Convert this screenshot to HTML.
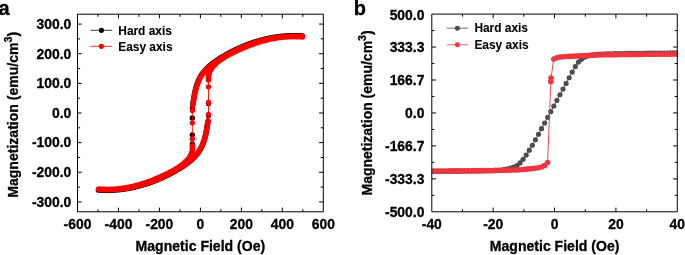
<!DOCTYPE html>
<html><head><meta charset="utf-8"><title>Magnetization</title>
<style>html,body{margin:0;padding:0;background:#fff}svg{display:block;will-change:transform}</style></head>
<body>
<svg width="685" height="255" viewBox="0 0 685 255" style="font-family:'Liberation Sans',sans-serif;font-weight:bold" fill="#000">
<rect width="685" height="255" fill="#fff"/>
<filter id="bl" x="0" y="0" width="685" height="255" filterUnits="userSpaceOnUse"><feGaussianBlur stdDeviation="0.33"/></filter>
<g filter="url(#bl)">
<defs><clipPath id="ca"><rect x="77.5" y="14.2" width="245.8" height="197.60000000000002"/></clipPath><clipPath id="cb"><rect x="431.8" y="14.1" width="245.49999999999994" height="197.70000000000002"/></clipPath></defs>
<g clip-path="url(#ca)">
<g fill="none" stroke="#000" stroke-linecap="round" stroke-linejoin="round">
<path d="M302.33 35.97L301.42 35.91L300.51 35.86L299.6 35.81L298.7 35.78L297.79 35.75L296.88 35.72L295.97 35.71L295.07 35.7L294.16 35.69L293.26 35.7L292.35 35.71L291.45 35.73L290.55 35.75L289.65 35.78L288.75 35.82L287.85 35.86L286.95 35.91L286.05 35.97L285.16 36.03L284.26 36.1L283.36 36.17L282.47 36.26L281.58 36.34L280.68 36.44L279.79 36.54L278.9 36.65L278.01 36.76L277.13 36.88L276.24 37.01L275.35 37.14L274.47 37.28L273.58 37.42L272.7 37.57L271.82 37.73L270.94 37.89L270.06 38.06L269.18 38.24L268.31 38.42L267.43 38.6L266.56 38.8L265.68 39L264.81 39.2L263.94 39.41L263.07 39.63L262.21 39.85L261.34 40.08L260.48 40.31L259.61 40.55L258.75 40.79L257.89 41.04L257.03 41.3L256.17 41.56L255.32 41.83L254.46 42.1L253.61 42.38L252.76 42.66L251.91 42.95L251.06 43.24L250.22 43.54L249.37 43.85L248.53 44.16L247.69 44.47L246.85 44.8L246.01 45.12L245.17 45.45L244.34 45.79L243.5 46.13L242.67 46.48L241.84 46.83L241.02 47.19L240.19 47.55L239.37 47.92L238.54 48.29L237.72 48.67L236.91 49.05L236.09 49.44L235.27 49.83L234.46 50.23L233.65 50.63L232.84 51.04L232.04 51.45L231.23 51.86L230.43 52.28L229.63 52.71L228.83 53.14L228.03 53.58L227.24 54.02L226.45 54.46L225.66 54.91L224.87 55.36L224.09 55.82L223.3 56.28L222.52 56.75L221.74 57.22L220.97 57.7L220.19 58.18L219.42 58.66L218.66 59.16L217.89 59.65L217.14 60.16L216.38 60.66L215.64 61.18L214.9 61.7L214.17 62.23L213.44 62.77L212.72 63.31L212.01 63.86L211.31 64.42L210.62 64.99L209.94 65.56L209.27 66.15L208.6 66.74L207.96 67.35L207.32 67.96L206.69 68.58L206.08 69.22L205.48 69.86L204.89 70.52L204.32 71.18L203.76 71.86L203.22 72.55L202.69 73.25L202.18 73.96L201.68 74.68L201.2 75.42L200.74 76.17L200.3 76.93L199.87 77.71L199.47 78.49L199.08 79.29L198.7 80.1L198.34 80.92L198 81.75L197.67 82.59L197.36 83.44L197.06 84.29L196.77 85.15L196.5 86.02L196.25 86.9L196 87.78L195.77 88.66L195.55 89.55L195.34 90.44L195.13 91.34L194.94 92.24L194.76 93.14L194.58 94.03L194.41 94.93L194.25 95.83L194.09 96.73L193.93 97.62L193.78 98.51L193.64 99.4L193.5 100.28L193.35 101.16L193.21 102.03L193.07 102.9L192.93 103.76L192.79 104.61M98.47 190.04L99.38 190.09L100.29 190.14L101.2 190.19L102.1 190.23L103.01 190.26L103.92 190.28L104.83 190.3L105.73 190.31L106.64 190.31L107.54 190.3L108.45 190.29L109.35 190.28L110.25 190.25L111.15 190.22L112.05 190.19L112.95 190.14L113.85 190.09L114.75 190.04L115.64 189.97L116.54 189.9L117.44 189.83L118.33 189.75L119.22 189.66L120.12 189.56L121.01 189.46L121.9 189.35L122.79 189.24L123.67 189.12L124.56 188.99L125.45 188.86L126.33 188.72L127.22 188.58L128.1 188.43L128.98 188.27L129.86 188.11L130.74 187.94L131.62 187.77L132.49 187.58L133.37 187.4L134.24 187.21L135.12 187.01L135.99 186.8L136.86 186.59L137.73 186.38L138.59 186.15L139.46 185.93L140.32 185.69L141.19 185.46L142.05 185.21L142.91 184.96L143.77 184.7L144.63 184.44L145.48 184.18L146.34 183.9L147.19 183.63L148.04 183.34L148.89 183.05L149.74 182.76L150.58 182.46L151.43 182.15L152.27 181.84L153.11 181.53L153.95 181.21L154.79 180.88L155.63 180.55L156.46 180.21L157.3 179.87L158.13 179.52L158.96 179.17L159.78 178.81L160.61 178.45L161.43 178.09L162.26 177.71L163.08 177.34L163.89 176.95L164.71 176.57L165.53 176.17L166.34 175.78L167.15 175.37L167.96 174.97L168.76 174.56L169.57 174.14L170.37 173.72L171.17 173.29L171.97 172.86L172.77 172.43L173.56 171.99L174.35 171.54L175.14 171.09L175.93 170.64L176.71 170.18L177.5 169.72L178.28 169.25L179.06 168.78L179.83 168.31L180.61 167.82L181.38 167.34L182.14 166.85L182.91 166.35L183.66 165.85L184.42 165.34L185.16 164.82L185.9 164.3L186.63 163.77L187.36 163.24L188.08 162.69L188.79 162.14L189.49 161.58L190.18 161.01L190.86 160.44L191.53 159.85L192.2 159.26L192.84 158.66L193.48 158.04L194.11 157.42L194.72 156.79L195.32 156.14L195.91 155.49L196.48 154.82L197.04 154.15L197.58 153.46L198.11 152.76L198.62 152.05L199.12 151.32L199.6 150.58L200.06 149.83L200.5 149.07L200.93 148.3L201.33 147.51L201.72 146.71L202.1 145.9L202.46 145.08L202.8 144.25L203.13 143.41L203.44 142.57L203.74 141.71L204.03 140.85L204.3 139.98L204.55 139.11L204.8 138.23L205.03 137.34L205.25 136.45L205.46 135.56L205.67 134.66L205.86 133.77L206.04 132.87L206.22 131.97L206.39 131.07L206.55 130.17L206.71 129.28L206.87 128.38L207.02 127.49L207.16 126.6L207.3 125.72L207.45 124.84L207.59 123.97L207.73 123.1L207.87 122.24L208.01 121.39" stroke-width="5.5"/>
</g>
<g fill="#000"><circle cx="192.4" cy="108.3" r="2.65"/><circle cx="192.3" cy="117.9" r="2.65"/><circle cx="192.3" cy="134.8" r="2.65"/><circle cx="192.3" cy="144" r="2.65"/><circle cx="208.5" cy="103.5" r="2.65"/><circle cx="208.5" cy="115.5" r="2.65"/></g>
<g fill="none" stroke="#f00" stroke-linecap="round" stroke-linejoin="round">
<path d="M302.33 36.52L301.42 36.46L300.51 36.41L299.6 36.36L298.7 36.33L297.79 36.3L296.88 36.27L295.97 36.26L295.07 36.25L294.16 36.24L293.26 36.25L292.35 36.26L291.45 36.28L290.55 36.3L289.65 36.33L288.75 36.37L287.85 36.41L286.95 36.46L286.05 36.52L285.16 36.58L284.26 36.65L283.36 36.72L282.47 36.81L281.58 36.89L280.68 36.99L279.79 37.09L278.9 37.2L278.01 37.31L277.13 37.43L276.24 37.56L275.35 37.69L274.47 37.83L273.58 37.97L272.7 38.12L271.82 38.28L270.94 38.44L270.06 38.61L269.18 38.79L268.31 38.97L267.43 39.15L266.56 39.35L265.68 39.55L264.81 39.75L263.94 39.96L263.07 40.18L262.21 40.4L261.34 40.63L260.48 40.86L259.61 41.1L258.75 41.34L257.89 41.59L257.03 41.85L256.17 42.11L255.32 42.38L254.46 42.65L253.61 42.93L252.76 43.21L251.91 43.5L251.06 43.79L250.22 44.09L249.37 44.4L248.53 44.71L247.69 45.02L246.85 45.35L246.01 45.67L245.17 46L244.34 46.34L243.5 46.68L242.67 47.03L241.84 47.38L241.02 47.74L240.19 48.1L239.37 48.47L238.54 48.84L237.72 49.22L236.91 49.6L236.09 49.99L235.27 50.38L234.46 50.78L233.65 51.18L232.84 51.59L232.04 52L231.23 52.41L230.43 52.83L229.63 53.26L228.83 53.69L228.03 54.13L227.24 54.57L226.45 55.01L225.66 55.46L224.87 55.91L224.09 56.37L223.3 56.83L222.52 57.3L221.74 57.77L220.97 58.25L220.19 58.73L219.42 59.21L218.66 59.71L217.89 60.2L217.14 60.71L216.38 61.21L215.64 61.73L214.9 62.25L214.17 62.78L213.44 63.32L212.72 63.86L212.01 64.41L211.31 64.97L210.62 65.54L209.94 66.11L209.27 66.7L208.6 67.29L207.96 67.9L207.32 68.51L206.69 69.13L206.08 69.77L205.48 70.41L204.89 71.07L204.32 71.73L203.76 72.41L203.22 73.1L202.69 73.8L202.18 74.51L201.68 75.23L201.2 75.97L200.74 76.72L200.3 77.48L199.87 78.26L199.47 79.04L199.08 79.84L198.7 80.65L198.34 81.47L198 82.3L197.67 83.14L197.36 83.99L197.06 84.84L196.77 85.7L196.5 86.57L196.25 87.45L196 88.33L195.77 89.21L195.55 90.1L195.34 90.99L195.13 91.89L194.94 92.79L194.76 93.69L194.58 94.58L194.41 95.48L194.25 96.38L194.09 97.28L193.93 98.17L193.78 99.06L193.64 99.95L193.5 100.83L193.35 101.71L193.21 102.58L193.07 103.45L192.93 104.31L192.79 105.16M208.44 80.03L208.39 79.24L208.37 78.47L208.39 77.71L208.43 76.98L208.51 76.25L208.61 75.55L208.75 74.86L208.91 74.18L209.09 73.52L209.3 72.88L209.54 72.25L209.8 71.63L210.08 71.02L210.38 70.43L210.71 69.85L211.05 69.28L211.41 68.72L211.79 68.17L212.19 67.64L212.6 67.11L213.03 66.6L213.47 66.09L213.92 65.59L214.39 65.11L214.86 64.63L215.35 64.15L215.84 63.69L216.35 63.23L216.86 62.78L217.38 62.34L217.91 61.9L218.45 61.47L218.99 61.05L219.54 60.63L220.1 60.22L220.66 59.82L221.23 59.42L221.81 59.02L222.39 58.64L222.98 58.25L223.57 57.88L224.17 57.5L224.77 57.14L225.37 56.77L225.98 56.41L226.6 56.06L227.21 55.71L227.84 55.36L228.46 55.02L229.09 54.68L229.71 54.35L230.35 54.02L230.98 53.69L231.61 53.36L232.25 53.04L232.89 52.72L233.53 52.4L234.17 52.09L234.81 51.78L235.45 51.47L236.09 51.16L236.73 50.86L237.37 50.55L238.01 50.25L238.65 49.96L239.3 49.66L239.94 49.37L240.59 49.08L241.23 48.79L241.88 48.51L242.52 48.22L243.17 47.94L243.82 47.67L244.47 47.39L245.11 47.12L245.76 46.85L246.41 46.59L247.06 46.32L247.72 46.06L248.37 45.81L249.02 45.55L249.67 45.3L250.33 45.05L250.98 44.81L251.64 44.57L252.29 44.33L252.95 44.09L253.6 43.86L254.26 43.63L254.92 43.4L255.58 43.18L256.24 42.96L256.9 42.74L257.56 42.53L258.22 42.32L258.89 42.11L259.55 41.91L260.21 41.71L260.88 41.51L261.54 41.32L262.21 41.13L262.88 40.94L263.55 40.76L264.22 40.58L264.89 40.4L265.56 40.23L266.23 40.06L266.9 39.9L267.57 39.74L268.25 39.58L268.92 39.43L269.6 39.28L270.27 39.13L270.95 38.99L271.63 38.85L272.31 38.71L272.99 38.58L273.67 38.46L274.35 38.33L275.03 38.22L275.71 38.1L276.4 37.99L277.08 37.88L277.77 37.78L278.46 37.68L279.14 37.59L279.83 37.5L280.52 37.41L281.21 37.33L281.9 37.25L282.6 37.18L283.29 37.11L283.98 37.05L284.68 36.99L285.38 36.93L286.07 36.88L286.77 36.83L287.47 36.79L288.17 36.75L288.87 36.72L289.58 36.69L290.28 36.67L290.98 36.65L291.69 36.63L292.4 36.62L293.1 36.62L293.81 36.62L294.52 36.62L295.23 36.63L295.95 36.64L296.66 36.66L297.37 36.68L298.09 36.71L298.81 36.74L299.52 36.78L300.24 36.83L300.96 36.87L301.68 36.93L302.4 36.98M98.47 189.49L99.38 189.54L100.29 189.59L101.2 189.64L102.1 189.68L103.01 189.71L103.92 189.73L104.83 189.75L105.73 189.76L106.64 189.76L107.54 189.75L108.45 189.74L109.35 189.73L110.25 189.7L111.15 189.67L112.05 189.64L112.95 189.59L113.85 189.54L114.75 189.49L115.64 189.42L116.54 189.35L117.44 189.28L118.33 189.2L119.22 189.11L120.12 189.01L121.01 188.91L121.9 188.8L122.79 188.69L123.67 188.57L124.56 188.44L125.45 188.31L126.33 188.17L127.22 188.03L128.1 187.88L128.98 187.72L129.86 187.56L130.74 187.39L131.62 187.22L132.49 187.03L133.37 186.85L134.24 186.66L135.12 186.46L135.99 186.25L136.86 186.04L137.73 185.83L138.59 185.6L139.46 185.38L140.32 185.14L141.19 184.91L142.05 184.66L142.91 184.41L143.77 184.15L144.63 183.89L145.48 183.63L146.34 183.35L147.19 183.08L148.04 182.79L148.89 182.5L149.74 182.21L150.58 181.91L151.43 181.6L152.27 181.29L153.11 180.98L153.95 180.66L154.79 180.33L155.63 180L156.46 179.66L157.3 179.32L158.13 178.97L158.96 178.62L159.78 178.26L160.61 177.9L161.43 177.54L162.26 177.16L163.08 176.79L163.89 176.4L164.71 176.02L165.53 175.62L166.34 175.23L167.15 174.82L167.96 174.42L168.76 174.01L169.57 173.59L170.37 173.17L171.17 172.74L171.97 172.31L172.77 171.88L173.56 171.44L174.35 170.99L175.14 170.54L175.93 170.09L176.71 169.63L177.5 169.17L178.28 168.7L179.06 168.23L179.83 167.76L180.61 167.27L181.38 166.79L182.14 166.3L182.91 165.8L183.66 165.3L184.42 164.79L185.16 164.27L185.9 163.75L186.63 163.22L187.36 162.69L188.08 162.14L188.79 161.59L189.49 161.03L190.18 160.46L190.86 159.89L191.53 159.3L192.2 158.71L192.84 158.11L193.48 157.49L194.11 156.87L194.72 156.24L195.32 155.59L195.91 154.94L196.48 154.27L197.04 153.6L197.58 152.91L198.11 152.21L198.62 151.5L199.12 150.77L199.6 150.03L200.06 149.28L200.5 148.52L200.93 147.75L201.33 146.96L201.72 146.16L202.1 145.35L202.46 144.53L202.8 143.7L203.13 142.86L203.44 142.02L203.74 141.16L204.03 140.3L204.3 139.43L204.55 138.56L204.8 137.68L205.03 136.79L205.25 135.9L205.46 135.01L205.67 134.11L205.86 133.22L206.04 132.32L206.22 131.42L206.39 130.52L206.55 129.62L206.71 128.73L206.87 127.83L207.02 126.94L207.16 126.05L207.3 125.17L207.45 124.29L207.59 123.42L207.73 122.55L207.87 121.69L208.01 120.84M192.36 145.98L192.41 146.77L192.43 147.54L192.41 148.29L192.37 149.03L192.29 149.75L192.19 150.45L192.05 151.14L191.89 151.82L191.71 152.48L191.5 153.12L191.26 153.76L191 154.38L190.72 154.98L190.42 155.57L190.09 156.16L189.75 156.72L189.39 157.28L189.01 157.83L188.61 158.36L188.2 158.89L187.77 159.41L187.33 159.91L186.88 160.41L186.41 160.9L185.94 161.38L185.45 161.85L184.96 162.31L184.45 162.77L183.94 163.22L183.42 163.66L182.89 164.1L182.35 164.53L181.81 164.95L181.26 165.37L180.7 165.78L180.14 166.19L179.57 166.59L178.99 166.98L178.41 167.37L177.82 167.75L177.23 168.13L176.63 168.5L176.03 168.87L175.43 169.23L174.82 169.59L174.2 169.94L173.59 170.29L172.96 170.64L172.34 170.98L171.71 171.32L171.09 171.65L170.45 171.99L169.82 172.31L169.19 172.64L168.55 172.96L167.91 173.28L167.27 173.6L166.63 173.91L165.99 174.23L165.35 174.53L164.71 174.84L164.07 175.15L163.43 175.45L162.79 175.75L162.15 176.05L161.5 176.34L160.86 176.64L160.21 176.93L159.57 177.21L158.92 177.5L158.28 177.78L157.63 178.06L156.98 178.34L156.33 178.61L155.69 178.88L155.04 179.15L154.39 179.42L153.74 179.68L153.08 179.94L152.43 180.2L151.78 180.45L151.13 180.7L150.47 180.95L149.82 181.19L149.16 181.44L148.51 181.67L147.85 181.91L147.2 182.14L146.54 182.37L145.88 182.6L145.22 182.82L144.56 183.04L143.9 183.26L143.24 183.47L142.58 183.68L141.91 183.89L141.25 184.09L140.59 184.29L139.92 184.49L139.26 184.69L138.59 184.87L137.92 185.06L137.25 185.24L136.58 185.42L135.91 185.6L135.24 185.77L134.57 185.94L133.9 186.1L133.23 186.27L132.55 186.42L131.88 186.58L131.2 186.73L130.53 186.87L129.85 187.02L129.17 187.15L128.49 187.29L127.81 187.42L127.13 187.55L126.45 187.67L125.77 187.79L125.09 187.9L124.4 188.01L123.72 188.12L123.03 188.22L122.34 188.32L121.66 188.41L120.97 188.5L120.28 188.59L119.59 188.67L118.9 188.75L118.2 188.82L117.51 188.89L116.82 188.96L116.12 189.02L115.42 189.07L114.73 189.12L114.03 189.17L113.33 189.21L112.63 189.25L111.93 189.28L111.22 189.31L110.52 189.34L109.82 189.36L109.11 189.37L108.4 189.38L107.7 189.39L106.99 189.39L106.28 189.38L105.57 189.37L104.85 189.36L104.14 189.34L103.43 189.32L102.71 189.29L101.99 189.26L101.28 189.22L100.56 189.18L99.84 189.13L99.12 189.08L98.4 189.02" stroke-width="5.5"/>
<path d="M192.3 108V147M208.5 79V118" stroke-width="0.9"/>
</g>
<g fill="#f00"><circle cx="192.4" cy="110.5" r="2.65"/><circle cx="192.3" cy="122.8" r="2.65"/><circle cx="192.3" cy="139" r="2.65"/><circle cx="208.5" cy="86.8" r="2.65"/><circle cx="208.5" cy="102.4" r="2.65"/><circle cx="208.5" cy="114.4" r="2.65"/></g>
</g>
<g clip-path="url(#cb)">
<path d="M421.86 171.44L424.93 171.42L428 171.4L431.07 171.38L434.14 171.36L437.21 171.34L440.28 171.31L443.34 171.29L446.41 171.26L449.48 171.24L452.55 171.21L455.62 171.19L458.69 171.16L461.76 171.13L464.83 171.1L467.89 171.07L470.96 171.04L474.03 171.01L477.1 170.98L480.17 170.95L483.24 170.92L486.31 170.87L489.38 170.81L492.44 170.72L495.51 170.55L498.58 170.32L501.65 170L504.72 169.45L507.79 168.84L510.86 168.09L513.92 167.07L516.99 165.5L520.06 162.94L523.13 159.33L526.2 155.07L529.27 150.17L532.34 145.27L535.41 139.77L538.48 134.25L541.54 128.66L544.61 123.02L547.68 117.34L550.75 111.63L553.82 106L556.89 100.37L559.96 94.73L563.02 89.08L566.09 83.43L569.16 77.77L572.23 72.09L575.3 66.6L578.37 62.1L581.44 59.31L584.51 57.19L587.58 55.94L590.64 55.07L593.71 54.62L596.78 54.37L599.85 54.19L602.92 54.04L605.99 53.92L609.06 53.83L612.12 53.75L615.19 53.68L618.26 53.62L621.33 53.56L624.4 53.51L627.47 53.47L630.54 53.42L633.61 53.38L636.67 53.34L639.74 53.3L642.81 53.26L645.88 53.22L648.95 53.19L652.02 53.15L655.09 53.12L658.16 53.08L661.22 53.05L664.29 53.02L667.36 52.99L670.43 52.96L673.5 52.93L676.57 52.9L679.64 52.88L682.71 52.85L685.77 52.83L688.84 52.81" fill="none" stroke="#4d4d4d" stroke-width="0.9"/>
<g fill="#4d4d4d"><circle cx="421.86" cy="171.44" r="2.6"/><circle cx="424.93" cy="171.42" r="2.6"/><circle cx="428" cy="171.4" r="2.6"/><circle cx="431.07" cy="171.38" r="2.6"/><circle cx="434.14" cy="171.36" r="2.6"/><circle cx="437.21" cy="171.34" r="2.6"/><circle cx="440.28" cy="171.31" r="2.6"/><circle cx="443.34" cy="171.29" r="2.6"/><circle cx="446.41" cy="171.26" r="2.6"/><circle cx="449.48" cy="171.24" r="2.6"/><circle cx="452.55" cy="171.21" r="2.6"/><circle cx="455.62" cy="171.19" r="2.6"/><circle cx="458.69" cy="171.16" r="2.6"/><circle cx="461.76" cy="171.13" r="2.6"/><circle cx="464.83" cy="171.1" r="2.6"/><circle cx="467.89" cy="171.07" r="2.6"/><circle cx="470.96" cy="171.04" r="2.6"/><circle cx="474.03" cy="171.01" r="2.6"/><circle cx="477.1" cy="170.98" r="2.6"/><circle cx="480.17" cy="170.95" r="2.6"/><circle cx="483.24" cy="170.92" r="2.6"/><circle cx="486.31" cy="170.87" r="2.6"/><circle cx="489.38" cy="170.81" r="2.6"/><circle cx="492.44" cy="170.72" r="2.6"/><circle cx="495.51" cy="170.55" r="2.6"/><circle cx="498.58" cy="170.32" r="2.6"/><circle cx="501.65" cy="170" r="2.6"/><circle cx="504.72" cy="169.45" r="2.6"/><circle cx="507.79" cy="168.84" r="2.6"/><circle cx="510.86" cy="168.09" r="2.6"/><circle cx="513.92" cy="167.07" r="2.6"/><circle cx="516.99" cy="165.5" r="2.6"/><circle cx="520.06" cy="162.94" r="2.6"/><circle cx="523.13" cy="159.33" r="2.6"/><circle cx="526.2" cy="155.07" r="2.6"/><circle cx="529.27" cy="150.17" r="2.6"/><circle cx="532.34" cy="145.27" r="2.6"/><circle cx="535.41" cy="139.77" r="2.6"/><circle cx="538.48" cy="134.25" r="2.6"/><circle cx="541.54" cy="128.66" r="2.6"/><circle cx="544.61" cy="123.02" r="2.6"/><circle cx="547.68" cy="117.34" r="2.6"/><circle cx="550.75" cy="111.63" r="2.6"/><circle cx="553.82" cy="106" r="2.6"/><circle cx="556.89" cy="100.37" r="2.6"/><circle cx="559.96" cy="94.73" r="2.6"/><circle cx="563.02" cy="89.08" r="2.6"/><circle cx="566.09" cy="83.43" r="2.6"/><circle cx="569.16" cy="77.77" r="2.6"/><circle cx="572.23" cy="72.09" r="2.6"/><circle cx="575.3" cy="66.6" r="2.6"/><circle cx="578.37" cy="62.1" r="2.6"/><circle cx="581.44" cy="59.31" r="2.6"/><circle cx="584.51" cy="57.19" r="2.6"/><circle cx="587.58" cy="55.94" r="2.6"/><circle cx="590.64" cy="55.07" r="2.6"/><circle cx="593.71" cy="54.62" r="2.6"/><circle cx="596.78" cy="54.37" r="2.6"/><circle cx="599.85" cy="54.19" r="2.6"/><circle cx="602.92" cy="54.04" r="2.6"/><circle cx="605.99" cy="53.92" r="2.6"/><circle cx="609.06" cy="53.83" r="2.6"/><circle cx="612.12" cy="53.75" r="2.6"/><circle cx="615.19" cy="53.68" r="2.6"/><circle cx="618.26" cy="53.62" r="2.6"/><circle cx="621.33" cy="53.56" r="2.6"/><circle cx="624.4" cy="53.51" r="2.6"/><circle cx="627.47" cy="53.47" r="2.6"/><circle cx="630.54" cy="53.42" r="2.6"/><circle cx="633.61" cy="53.38" r="2.6"/><circle cx="636.67" cy="53.34" r="2.6"/><circle cx="639.74" cy="53.3" r="2.6"/><circle cx="642.81" cy="53.26" r="2.6"/><circle cx="645.88" cy="53.22" r="2.6"/><circle cx="648.95" cy="53.19" r="2.6"/><circle cx="652.02" cy="53.15" r="2.6"/><circle cx="655.09" cy="53.12" r="2.6"/><circle cx="658.16" cy="53.08" r="2.6"/><circle cx="661.22" cy="53.05" r="2.6"/><circle cx="664.29" cy="53.02" r="2.6"/><circle cx="667.36" cy="52.99" r="2.6"/><circle cx="670.43" cy="52.96" r="2.6"/><circle cx="673.5" cy="52.93" r="2.6"/><circle cx="676.57" cy="52.9" r="2.6"/><circle cx="679.64" cy="52.88" r="2.6"/><circle cx="682.71" cy="52.85" r="2.6"/><circle cx="685.77" cy="52.83" r="2.6"/><circle cx="688.84" cy="52.81" r="2.6"/></g>
<path d="M424.85 171.08L427.92 171.06L430.99 171.05L434.06 171.03L437.13 171L440.19 170.98L443.26 170.96L446.33 170.93L449.4 170.91L452.47 170.88L455.54 170.85L458.61 170.82L461.68 170.79L464.74 170.76L467.81 170.72L470.88 170.69L473.95 170.66L477.02 170.63L480.09 170.59L483.16 170.56L486.23 170.53L489.29 170.49L492.36 170.45L495.43 170.4L498.5 170.35L501.57 170.3L504.64 170.23L507.71 170.17L510.78 170.09L513.84 170L516.91 169.88L519.98 169.68L523.05 169.43L526.12 169.15L529.19 168.87L532.26 168.6L535.33 168.25L538.39 167.68L541.46 166.98L544.53 165.58L547.6 162.5L551 78L553.8 59.1L556.87 57.71L559.94 57.01L563.01 56.71L566.07 56.52L569.14 56.35L572.21 56.19L575.28 56.05L578.35 55.92L581.42 55.79L584.49 55.66L587.56 55.52L590.62 55.35L593.69 55.15L596.76 54.98L599.83 54.88L602.9 54.82L605.97 54.76L609.04 54.71L612.11 54.67L615.17 54.63L618.24 54.6L621.31 54.57L624.38 54.54L627.45 54.51L630.52 54.48L633.59 54.46L636.66 54.43L639.72 54.4L642.79 54.37L645.86 54.34L648.93 54.32L652 54.29L655.07 54.26L658.14 54.23L661.21 54.21L664.27 54.18L667.34 54.16L670.41 54.13L673.48 54.11L676.55 54.09L679.62 54.07L682.69 54.04" fill="none" stroke="#ee363f" stroke-width="0.9" stroke-linejoin="round"/>
<g fill="#ee363f"><circle cx="547.6" cy="162.5" r="2.8"/><circle cx="544.53" cy="165.58" r="2.8"/><circle cx="541.46" cy="166.98" r="2.8"/><circle cx="538.39" cy="167.68" r="2.8"/><circle cx="535.33" cy="168.25" r="2.8"/><circle cx="532.26" cy="168.6" r="2.8"/><circle cx="529.19" cy="168.87" r="2.8"/><circle cx="526.12" cy="169.15" r="2.8"/><circle cx="523.05" cy="169.43" r="2.8"/><circle cx="519.98" cy="169.68" r="2.8"/><circle cx="516.91" cy="169.88" r="2.8"/><circle cx="513.84" cy="170" r="2.8"/><circle cx="510.78" cy="170.09" r="2.8"/><circle cx="507.71" cy="170.17" r="2.8"/><circle cx="504.64" cy="170.23" r="2.8"/><circle cx="501.57" cy="170.3" r="2.8"/><circle cx="498.5" cy="170.35" r="2.8"/><circle cx="495.43" cy="170.4" r="2.8"/><circle cx="492.36" cy="170.45" r="2.8"/><circle cx="489.29" cy="170.49" r="2.8"/><circle cx="486.23" cy="170.53" r="2.8"/><circle cx="483.16" cy="170.56" r="2.8"/><circle cx="480.09" cy="170.59" r="2.8"/><circle cx="477.02" cy="170.63" r="2.8"/><circle cx="473.95" cy="170.66" r="2.8"/><circle cx="470.88" cy="170.69" r="2.8"/><circle cx="467.81" cy="170.72" r="2.8"/><circle cx="464.74" cy="170.76" r="2.8"/><circle cx="461.68" cy="170.79" r="2.8"/><circle cx="458.61" cy="170.82" r="2.8"/><circle cx="455.54" cy="170.85" r="2.8"/><circle cx="452.47" cy="170.88" r="2.8"/><circle cx="449.4" cy="170.91" r="2.8"/><circle cx="446.33" cy="170.93" r="2.8"/><circle cx="443.26" cy="170.96" r="2.8"/><circle cx="440.19" cy="170.98" r="2.8"/><circle cx="437.13" cy="171" r="2.8"/><circle cx="434.06" cy="171.03" r="2.8"/><circle cx="430.99" cy="171.05" r="2.8"/><circle cx="427.92" cy="171.06" r="2.8"/><circle cx="424.85" cy="171.08" r="2.8"/><circle cx="553.8" cy="59.1" r="2.8"/><circle cx="556.87" cy="57.71" r="2.8"/><circle cx="559.94" cy="57.01" r="2.8"/><circle cx="563.01" cy="56.71" r="2.8"/><circle cx="566.07" cy="56.52" r="2.8"/><circle cx="569.14" cy="56.35" r="2.8"/><circle cx="572.21" cy="56.19" r="2.8"/><circle cx="575.28" cy="56.05" r="2.8"/><circle cx="578.35" cy="55.92" r="2.8"/><circle cx="581.42" cy="55.79" r="2.8"/><circle cx="584.49" cy="55.66" r="2.8"/><circle cx="587.56" cy="55.52" r="2.8"/><circle cx="590.62" cy="55.35" r="2.8"/><circle cx="593.69" cy="55.15" r="2.8"/><circle cx="596.76" cy="54.98" r="2.8"/><circle cx="599.83" cy="54.88" r="2.8"/><circle cx="602.9" cy="54.82" r="2.8"/><circle cx="605.97" cy="54.76" r="2.8"/><circle cx="609.04" cy="54.71" r="2.8"/><circle cx="612.11" cy="54.67" r="2.8"/><circle cx="615.17" cy="54.63" r="2.8"/><circle cx="618.24" cy="54.6" r="2.8"/><circle cx="621.31" cy="54.57" r="2.8"/><circle cx="624.38" cy="54.54" r="2.8"/><circle cx="627.45" cy="54.51" r="2.8"/><circle cx="630.52" cy="54.48" r="2.8"/><circle cx="633.59" cy="54.46" r="2.8"/><circle cx="636.66" cy="54.43" r="2.8"/><circle cx="639.72" cy="54.4" r="2.8"/><circle cx="642.79" cy="54.37" r="2.8"/><circle cx="645.86" cy="54.34" r="2.8"/><circle cx="648.93" cy="54.32" r="2.8"/><circle cx="652" cy="54.29" r="2.8"/><circle cx="655.07" cy="54.26" r="2.8"/><circle cx="658.14" cy="54.23" r="2.8"/><circle cx="661.21" cy="54.21" r="2.8"/><circle cx="664.27" cy="54.18" r="2.8"/><circle cx="667.34" cy="54.16" r="2.8"/><circle cx="670.41" cy="54.13" r="2.8"/><circle cx="673.48" cy="54.11" r="2.8"/><circle cx="676.55" cy="54.09" r="2.8"/><circle cx="679.62" cy="54.07" r="2.8"/><circle cx="682.69" cy="54.04" r="2.8"/><circle cx="551" cy="78" r="2.8"/><circle cx="550.8" cy="81.6" r="2.8"/></g>
</g>
<path d="M77.5 14.2H323.3V211.8H77.5ZM118.47 211.8v-4.2M118.47 14.2v4.2M159.43 211.8v-4.2M159.43 14.2v4.2M200.4 211.8v-4.2M200.4 14.2v4.2M241.37 211.8v-4.2M241.37 14.2v4.2M282.33 211.8v-4.2M282.33 14.2v4.2M97.98 211.8v-2.6M97.98 14.2v2.6M138.95 211.8v-2.6M138.95 14.2v2.6M179.92 211.8v-2.6M179.92 14.2v2.6M220.88 211.8v-2.6M220.88 14.2v2.6M261.85 211.8v-2.6M261.85 14.2v2.6M302.82 211.8v-2.6M302.82 14.2v2.6M77.5 201.92h4.2M323.3 201.92h-4.2M77.5 172.28h4.2M323.3 172.28h-4.2M77.5 142.64h4.2M323.3 142.64h-4.2M77.5 113h4.2M323.3 113h-4.2M77.5 83.36h4.2M323.3 83.36h-4.2M77.5 53.72h4.2M323.3 53.72h-4.2M77.5 24.08h4.2M323.3 24.08h-4.2M77.5 187.1h2.6M323.3 187.1h-2.6M77.5 157.46h2.6M323.3 157.46h-2.6M77.5 127.82h2.6M323.3 127.82h-2.6M77.5 98.18h2.6M323.3 98.18h-2.6M77.5 68.54h2.6M323.3 68.54h-2.6M77.5 38.9h2.6M323.3 38.9h-2.6" fill="none" stroke="#000" stroke-width="1.0" stroke-linejoin="miter"/>
<path d="M431.8 14.1H677.3V211.8H431.8ZM493.18 211.8v-4.2M493.18 14.1v4.2M554.55 211.8v-4.2M554.55 14.1v4.2M615.92 211.8v-4.2M615.92 14.1v4.2M462.49 211.8v-2.6M462.49 14.1v2.6M523.86 211.8v-2.6M523.86 14.1v2.6M585.24 211.8v-2.6M585.24 14.1v2.6M646.61 211.8v-2.6M646.61 14.1v2.6M431.8 47.05h4.2M677.3 47.05h-4.2M431.8 80h4.2M677.3 80h-4.2M431.8 112.95h4.2M677.3 112.95h-4.2M431.8 145.9h4.2M677.3 145.9h-4.2M431.8 178.85h4.2M677.3 178.85h-4.2M431.8 30.57h2.6M677.3 30.57h-2.6M431.8 63.53h2.6M677.3 63.53h-2.6M431.8 96.48h2.6M677.3 96.48h-2.6M431.8 129.43h2.6M677.3 129.43h-2.6M431.8 162.38h2.6M677.3 162.38h-2.6M431.8 195.33h2.6M677.3 195.33h-2.6" fill="none" stroke="#000" stroke-width="1.0" stroke-linejoin="miter"/>
<text x="-1.6" y="14.5" font-size="20" text-anchor="start" stroke="#000" stroke-width="0.3" stroke-linejoin="round">a</text>
<text x="353.8" y="14.7" font-size="20" text-anchor="start" stroke="#000" stroke-width="0.3" stroke-linejoin="round">b</text>
<text x="71.3" y="207.02" font-size="13.9" text-anchor="end" stroke="#000" stroke-width="0.3" stroke-linejoin="round">-300.0</text>
<text x="71.3" y="177.38" font-size="13.9" text-anchor="end" stroke="#000" stroke-width="0.3" stroke-linejoin="round">-200.0</text>
<text x="71.3" y="147.24" font-size="13.9" text-anchor="end" stroke="#000" stroke-width="0.3" stroke-linejoin="round">-100.0</text>
<text x="71.3" y="118.1" font-size="13.9" text-anchor="end" stroke="#000" stroke-width="0.3" stroke-linejoin="round">0.0</text>
<text x="71.3" y="88.46" font-size="13.9" text-anchor="end" stroke="#000" stroke-width="0.3" stroke-linejoin="round">100.0</text>
<text x="71.3" y="58.52" font-size="13.9" text-anchor="end" stroke="#000" stroke-width="0.3" stroke-linejoin="round">200.0</text>
<text x="71.3" y="29.18" font-size="13.9" text-anchor="end" stroke="#000" stroke-width="0.3" stroke-linejoin="round">300.0</text>
<text x="77.5" y="228.8" font-size="13.9" text-anchor="middle" stroke="#000" stroke-width="0.3" stroke-linejoin="round">-600</text>
<text x="118.47" y="228.8" font-size="13.9" text-anchor="middle" stroke="#000" stroke-width="0.3" stroke-linejoin="round">-400</text>
<text x="159.43" y="228.8" font-size="13.9" text-anchor="middle" stroke="#000" stroke-width="0.3" stroke-linejoin="round">-200</text>
<text x="200.4" y="228.8" font-size="13.9" text-anchor="middle" stroke="#000" stroke-width="0.3" stroke-linejoin="round">0</text>
<text x="241.37" y="228.8" font-size="13.9" text-anchor="middle" stroke="#000" stroke-width="0.3" stroke-linejoin="round">200</text>
<text x="282.33" y="228.8" font-size="13.9" text-anchor="middle" stroke="#000" stroke-width="0.3" stroke-linejoin="round">400</text>
<text x="323.3" y="228.8" font-size="13.9" text-anchor="middle" stroke="#000" stroke-width="0.3" stroke-linejoin="round">600</text>
<text x="424.4" y="19.7" font-size="13.9" text-anchor="end" stroke="#000" stroke-width="0.3" stroke-linejoin="round">500.0</text>
<text x="424.4" y="52.05" font-size="13.9" text-anchor="end" stroke="#000" stroke-width="0.3" stroke-linejoin="round">333.3</text>
<text x="424.4" y="85" font-size="13.9" text-anchor="end" stroke="#000" stroke-width="0.3" stroke-linejoin="round">166.7</text>
<text x="424.4" y="117.95" font-size="13.9" text-anchor="end" stroke="#000" stroke-width="0.3" stroke-linejoin="round">0.0</text>
<text x="424.4" y="150.9" font-size="13.9" text-anchor="end" stroke="#000" stroke-width="0.3" stroke-linejoin="round">-166.7</text>
<text x="424.4" y="183.85" font-size="13.9" text-anchor="end" stroke="#000" stroke-width="0.3" stroke-linejoin="round">-333.3</text>
<text x="424.4" y="217.4" font-size="13.9" text-anchor="end" stroke="#000" stroke-width="0.3" stroke-linejoin="round">-500.0</text>
<text x="431.8" y="229.2" font-size="13.9" text-anchor="middle" stroke="#000" stroke-width="0.3" stroke-linejoin="round">-40</text>
<text x="493.18" y="229.2" font-size="13.9" text-anchor="middle" stroke="#000" stroke-width="0.3" stroke-linejoin="round">-20</text>
<text x="554.55" y="229.2" font-size="13.9" text-anchor="middle" stroke="#000" stroke-width="0.3" stroke-linejoin="round">0</text>
<text x="615.92" y="229.2" font-size="13.9" text-anchor="middle" stroke="#000" stroke-width="0.3" stroke-linejoin="round">20</text>
<text x="677.3" y="229.2" font-size="13.9" text-anchor="middle" stroke="#000" stroke-width="0.3" stroke-linejoin="round">40</text>
<text x="200.4" y="251.4" font-size="14.05" text-anchor="middle" stroke="#000" stroke-width="0.3" stroke-linejoin="round">Magnetic Field (Oe)</text>
<text x="554.6" y="251.4" font-size="14.05" text-anchor="middle" stroke="#000" stroke-width="0.3" stroke-linejoin="round">Magnetic Field (Oe)</text>
<text transform="translate(18 114.8) rotate(-90)" font-size="14.05" text-anchor="middle" stroke="#000" stroke-width="0.3" stroke-linejoin="round">Magnetization (emu/cm<tspan font-size="10.6" dy="-5.9">3</tspan><tspan dy="5.9">)</tspan></text>
<text transform="translate(372.1 112.9) rotate(-90)" font-size="13.97" text-anchor="middle" stroke="#000" stroke-width="0.3" stroke-linejoin="round">Magnetization (emu/cm<tspan font-size="10.6" dy="-5.9">3</tspan><tspan dy="5.9">)</tspan></text>
<path d="M90.7 30.3H112.1" stroke="#000" stroke-width="0.8" fill="none"/>
<circle cx="101.4" cy="30.3" r="2.6" fill="#000"/>
<text x="118.3" y="34.9" font-size="11.9" text-anchor="start" stroke="#000" stroke-width="0.1">Hard axis</text>
<path d="M90.7 46.3H112.1" stroke="#f00" stroke-width="0.8" fill="none"/>
<circle cx="101.4" cy="46.3" r="2.6" fill="#f00"/>
<text x="118.3" y="50.7" font-size="11.9" text-anchor="start" stroke="#000" stroke-width="0.1">Easy axis</text>
<path d="M446.7 28.2H468.1" stroke="#4d4d4d" stroke-width="0.8" fill="none"/>
<circle cx="457.4" cy="28.2" r="2.5" fill="#4d4d4d"/>
<text x="474.4" y="32" font-size="11.9" text-anchor="start" stroke="#000" stroke-width="0.1">Hard axis</text>
<path d="M446.7 44.8H468.1" stroke="#ee363f" stroke-width="0.8" fill="none"/>
<circle cx="457.4" cy="44.8" r="2.5" fill="#ee363f"/>
<text x="474.4" y="48.7" font-size="11.9" text-anchor="start" stroke="#000" stroke-width="0.1">Easy axis</text>
</g>
</svg>
</body></html>
